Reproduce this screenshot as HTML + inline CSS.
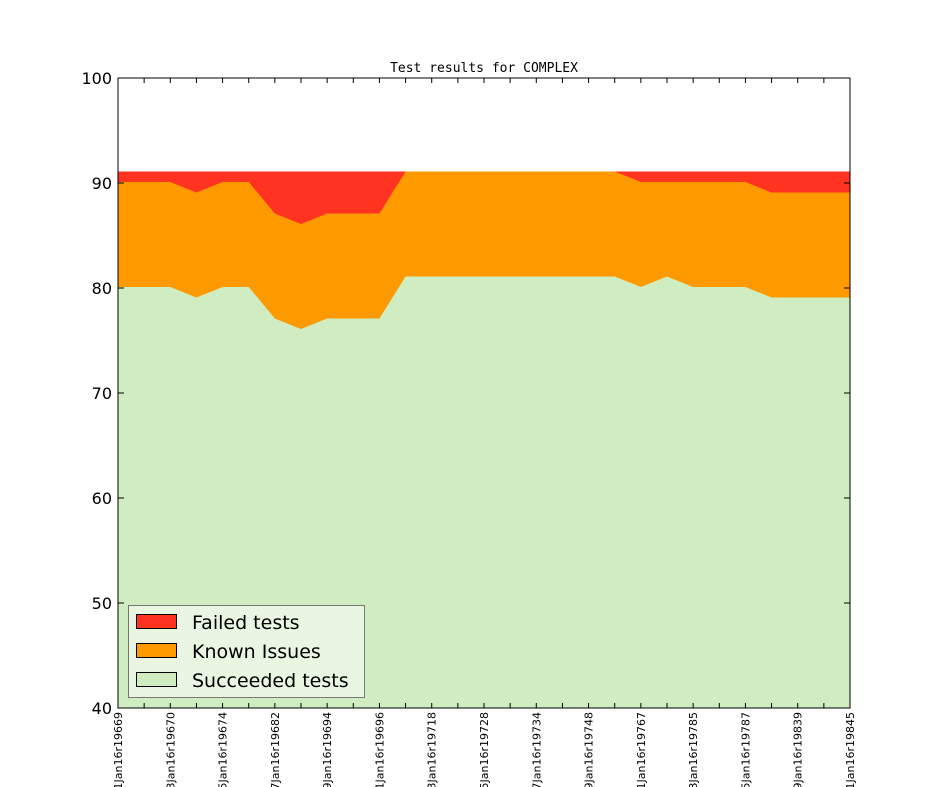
<!DOCTYPE html>
<html><head><meta charset="utf-8"><style>body{margin:0;background:#fff}svg{display:block}</style></head>
<body>
<svg width="944" height="787" xmlns="http://www.w3.org/2000/svg">
<rect width="944" height="787" fill="#fff"/>
<rect x="118" y="171.5" width="732" height="536.5" fill="#ff3320"/>
<polygon fill="#ff9900" points="118,182 170.29,182 196.43,192.5 222.57,182 248.71,182 274.86,213.5 301,224 327.14,213.5 379.43,213.5 405.57,171.5 614.71,171.5 640.86,182 745.43,182 771.57,192.5 850,192.5 850,708 118,708"/>
<polygon fill="#cfedc0" points="118,287 170.29,287 196.43,297.5 222.57,287 248.71,287 274.86,318.5 301,329 327.14,318.5 379.43,318.5 405.57,276.5 614.71,276.5 640.86,287 667,276.5 693.14,287 745.43,287 771.57,297.5 850,297.5 850,708 118,708"/>
<rect x="118" y="78" width="732" height="630" fill="none" stroke="#000" stroke-width="1"/>
<text x="484" y="72" font-family="DejaVu Sans Mono, Liberation Mono, monospace" font-size="13" text-anchor="middle">Test results for COMPLEX</text>
<g font-family="DejaVu Sans, Liberation Sans, sans-serif" font-size="16" text-anchor="end">
<text x="112" y="84">100</text><text x="112" y="189">90</text><text x="112" y="294">80</text>
<text x="112" y="399">70</text><text x="112" y="504">60</text><text x="112" y="609">50</text><text x="112" y="714">40</text>
</g>
<g stroke="#000" stroke-width="1">
<path d="M118,708v-5M144.14,708v-5M170.29,708v-5M196.43,708v-5M222.57,708v-5M248.71,708v-5M274.86,708v-5M301,708v-5M327.14,708v-5M353.29,708v-5M379.43,708v-5M405.57,708v-5M431.71,708v-5M457.86,708v-5M484,708v-5M510.14,708v-5M536.29,708v-5M562.43,708v-5M588.57,708v-5M614.71,708v-5M640.86,708v-5M667,708v-5M693.14,708v-5M719.29,708v-5M745.43,708v-5M771.57,708v-5M797.71,708v-5M823.86,708v-5M850,708v-5"/>
<path d="M118,78v5M144.14,78v5M170.29,78v5M196.43,78v5M222.57,78v5M248.71,78v5M274.86,78v5M301,78v5M327.14,78v5M353.29,78v5M379.43,78v5M405.57,78v5M431.71,78v5M457.86,78v5M484,78v5M510.14,78v5M536.29,78v5M562.43,78v5M588.57,78v5M614.71,78v5M640.86,78v5M667,78v5M693.14,78v5M719.29,78v5M745.43,78v5M771.57,78v5M797.71,78v5M823.86,78v5M850,78v5"/>
<path d="M118,78h6M118,183h6M118,288h6M118,393h6M118,498h6M118,603h6M844,78h6M844,183h6M844,288h6M844,393h6M844,498h6M844,603h6"/>
</g>
<g font-family="DejaVu Sans, Liberation Sans, sans-serif" font-size="11" text-anchor="end">
<text transform="translate(122,712) rotate(-90)">01Jan16r19669</text>
<text transform="translate(174.3,712) rotate(-90)">03Jan16r19670</text>
<text transform="translate(226.6,712) rotate(-90)">05Jan16r19674</text>
<text transform="translate(278.9,712) rotate(-90)">07Jan16r19682</text>
<text transform="translate(331.1,712) rotate(-90)">09Jan16r19694</text>
<text transform="translate(383.4,712) rotate(-90)">11Jan16r19696</text>
<text transform="translate(435.7,712) rotate(-90)">13Jan16r19718</text>
<text transform="translate(488,712) rotate(-90)">15Jan16r19728</text>
<text transform="translate(540.3,712) rotate(-90)">17Jan16r19734</text>
<text transform="translate(592.6,712) rotate(-90)">19Jan16r19748</text>
<text transform="translate(644.9,712) rotate(-90)">21Jan16r19767</text>
<text transform="translate(697.1,712) rotate(-90)">23Jan16r19785</text>
<text transform="translate(749.4,712) rotate(-90)">25Jan16r19787</text>
<text transform="translate(801.7,712) rotate(-90)">29Jan16r19839</text>
<text transform="translate(854,712) rotate(-90)">31Jan16r19845</text>
</g>
<rect x="128.5" y="605.5" width="236" height="92" fill="#e9f6e2" stroke="#777"/>
<rect x="136.5" y="614.5" width="40" height="14" fill="#ff3320" stroke="#000"/>
<rect x="136.5" y="643.5" width="40" height="14" fill="#ff9900" stroke="#000"/>
<rect x="136.5" y="672.5" width="40" height="14" fill="#cfedc0" stroke="#000"/>
<g font-family="DejaVu Sans, Liberation Sans, sans-serif" font-size="19">
<text x="192" y="629">Failed tests</text><text x="192" y="658">Known Issues</text><text x="192" y="687">Succeeded tests</text>
</g>
</svg>
</body></html>
